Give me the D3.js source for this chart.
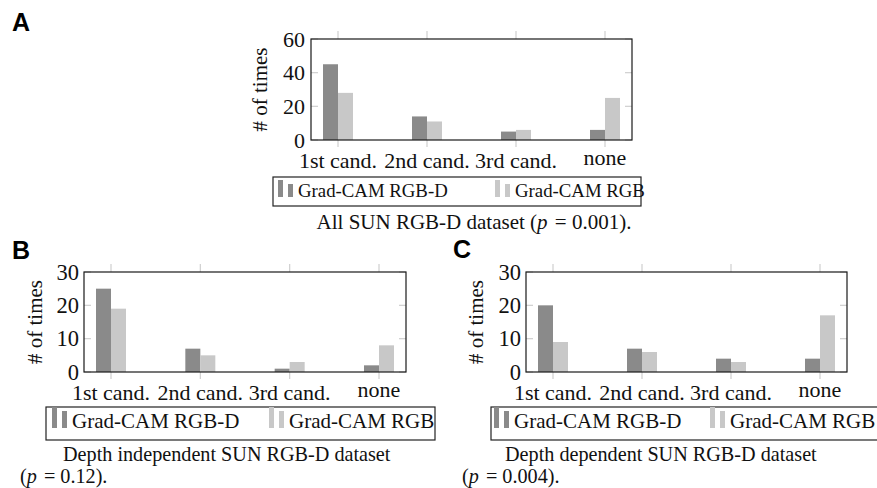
<!DOCTYPE html>
<html>
<head>
<meta charset="utf-8">
<script src="https://cdn.jsdelivr.net/npm/d3@7"></script>
<style>
  body { margin: 0; background: #fff; }
</style>
</head>
<body>
<svg id="chart" width="877" height="488"></svg>
<script>
var categories = ['1st cand.', '2nd cand.', '3rd cand.', 'none']
var seriesNames = ['Grad-CAM RGB-D', 'Grad-CAM RGB']

// A: all SUN RGB-D
var allRgbd = [45, 14, 5, 6]
var allRgb = [28, 11, 6, 25]
// B: depth independent
var indepRgbd = [25, 7, 1, 2]
var indepRgb = [19, 5, 3, 8]
// C: depth dependent
var depRgbd = [20, 7, 4, 4]
var depRgb = [9, 6, 3, 17]

var ticksA = [0, 20, 40, 60]
var ticksBC = [0, 10, 20, 30]

var colors = ['#8a8a8a', '#c8c8c8']
var SERIF = '"Liberation Serif", "Times New Roman", serif'
var svg = d3.select('#chart')

var fsA = {tick: 22, xlab: 22, ytitle: 21, legend: 18.8, caption: 21}
var fsBC = {tick: 22.5, xlab: 22, ytitle: 21, legend: 21, caption: 20.2}

var panels = [
  {letter: 'A', lx: 12, ly: 31, left: 311, top: 39, width: 321, height: 101, ticks: ticksA,
   vals: [allRgbd, allRgb], ytx: 267, xlab: 28, pad: 6, fs: fsA,
   legend: {x: 273, y: 177, w: 368, h: 29, icons: [278, 495], base: 197},
   caption: [{x: 474, y: 229, anchor: 'middle', pre: 'All SUN RGB-D dataset (', post: ' = 0.001).'}]},
  {letter: 'B', lx: 12, ly: 259, left: 84, top: 272, width: 322, height: 100, ticks: ticksBC,
   vals: [indepRgbd, indepRgb], ytx: 42, xlab: 28, pad: 5, fs: fsBC,
   legend: {x: 46, y: 407, w: 389, h: 33, icons: [52, 269], base: 428},
   caption: [{x: 63, y: 461, anchor: 'start', text: 'Depth independent SUN RGB-D dataset'},
             {x: 20, y: 483, anchor: 'start', pre: '(', post: ' = 0.12).'}]},
  {letter: 'C', lx: 453, ly: 258, left: 526, top: 272, width: 321, height: 100, ticks: ticksBC,
   vals: [depRgbd, depRgb], ytx: 483, xlab: 28, pad: 5, fs: fsBC,
   legend: {x: 491, y: 407, w: 400, h: 33, icons: [494, 710], base: 428},
   caption: [{x: 505, y: 461, anchor: 'start', text: 'Depth dependent SUN RGB-D dataset'},
             {x: 462, y: 483, anchor: 'start', pre: '(', post: ' = 0.004).'}]}
]

panels.forEach(drawPanel)

function serifText(sel, size) {
  return sel.attr('font-family', SERIF).style('font-family', SERIF)
    .attr('font-size', size).style('font-size', size + 'px').attr('fill', '#111')
}

function drawPanel(p) {
  svg.append('text').attr('x', p.lx).attr('y', p.ly)
    .style('font-family', '"Liberation Sans", Arial, sans-serif')
    .style('font-weight', 'bold').style('font-size', '25px')
    .text(p.letter)

  var g = svg.append('g').attr('transform', 'translate(' + p.left + ',' + p.top + ')')
  var x = d3.scalePoint().domain(categories).range([27, p.width - 27])
  var y = d3.scaleLinear().domain([0, p.ticks[p.ticks.length - 1]]).range([p.height, 0])
  var bw = 15

  // light tick marks
  var tg = g.append('g').attr('stroke', '#cfcfcf').attr('stroke-width', 1.2)
  categories.forEach(function(c) {
    tg.append('line').attr('x1', x(c)).attr('x2', x(c)).attr('y1', -8).attr('y2', 0)
    tg.append('line').attr('x1', x(c)).attr('x2', x(c)).attr('y1', p.height).attr('y2', p.height + 7)
  })
  p.ticks.forEach(function(t) {
    tg.append('line').attr('x1', 0).attr('x2', 7).attr('y1', y(t)).attr('y2', y(t))
    tg.append('line').attr('x1', p.width - 7).attr('x2', p.width).attr('y1', y(t)).attr('y2', y(t))
  })

  // bars
  p.vals.forEach(function(vals, si) {
    g.append('g').selectAll('rect').data(vals).join('rect')
      .attr('x', function(d, i) { return x(categories[i]) + (si === 0 ? -bw : 0) })
      .attr('y', function(d) { return y(d) })
      .attr('width', bw)
      .attr('height', function(d) { return p.height - y(d) })
      .attr('fill', colors[si])
  })

  // frame
  g.append('rect').attr('width', p.width).attr('height', p.height)
    .attr('fill', 'none').attr('stroke', '#1a1a1a').attr('stroke-width', 1.2)

  // y tick labels
  var ya = g.append('g').call(d3.axisLeft(y).tickValues(p.ticks).tickSize(0).tickPadding(p.pad))
  ya.attr('font-family', null).attr('font-size', null)
  ya.select('.domain').remove()
  serifText(ya.selectAll('text'), p.fs.tick)

  // x labels
  serifText(g.append('g').selectAll('text').data(categories).join('text'), p.fs.xlab)
    .attr('x', function(d) { return x(d) })
    .attr('y', function(d) { return p.height + p.xlab - (d === 'none' ? 3 : 0) })
    .attr('text-anchor', 'middle')
    .text(function(d) { return d })

  // y title
  serifText(svg.append('text'), p.fs.ytitle)
    .attr('transform', 'translate(' + p.ytx + ',' + (p.top + p.height / 2) + ') rotate(-90)')
    .attr('text-anchor', 'middle')
    .text('# of times')

  // legend
  var L = p.legend
  svg.append('rect').attr('x', L.x).attr('y', L.y).attr('width', L.w).attr('height', L.h)
    .attr('fill', 'none').attr('stroke', '#222').attr('stroke-width', 1.2)
  var ih = L.h - 12
  var iconTop = L.base - ih
  seriesNames.forEach(function(name, si) {
    var ix = L.icons[si]
    svg.append('rect').attr('x', ix).attr('y', iconTop).attr('width', 5).attr('height', ih).attr('fill', colors[si])
    svg.append('rect').attr('x', ix + 10).attr('y', iconTop + 4).attr('width', 5).attr('height', ih - 4).attr('fill', colors[si])
    serifText(svg.append('text'), p.fs.legend).attr('x', ix + 20).attr('y', L.base).text(name)
  })

  // caption
  p.caption.forEach(function(c) {
    var t = serifText(svg.append('text'), p.fs.caption).attr('x', c.x).attr('y', c.y).attr('text-anchor', c.anchor)
    if (c.text) { t.text(c.text); return }
    t.append('tspan').text(c.pre)
    t.append('tspan').style('font-style', 'italic').text('p')
    t.append('tspan').attr('dx', 2).text(c.post)
  })
}
</script>
</body>
</html>
